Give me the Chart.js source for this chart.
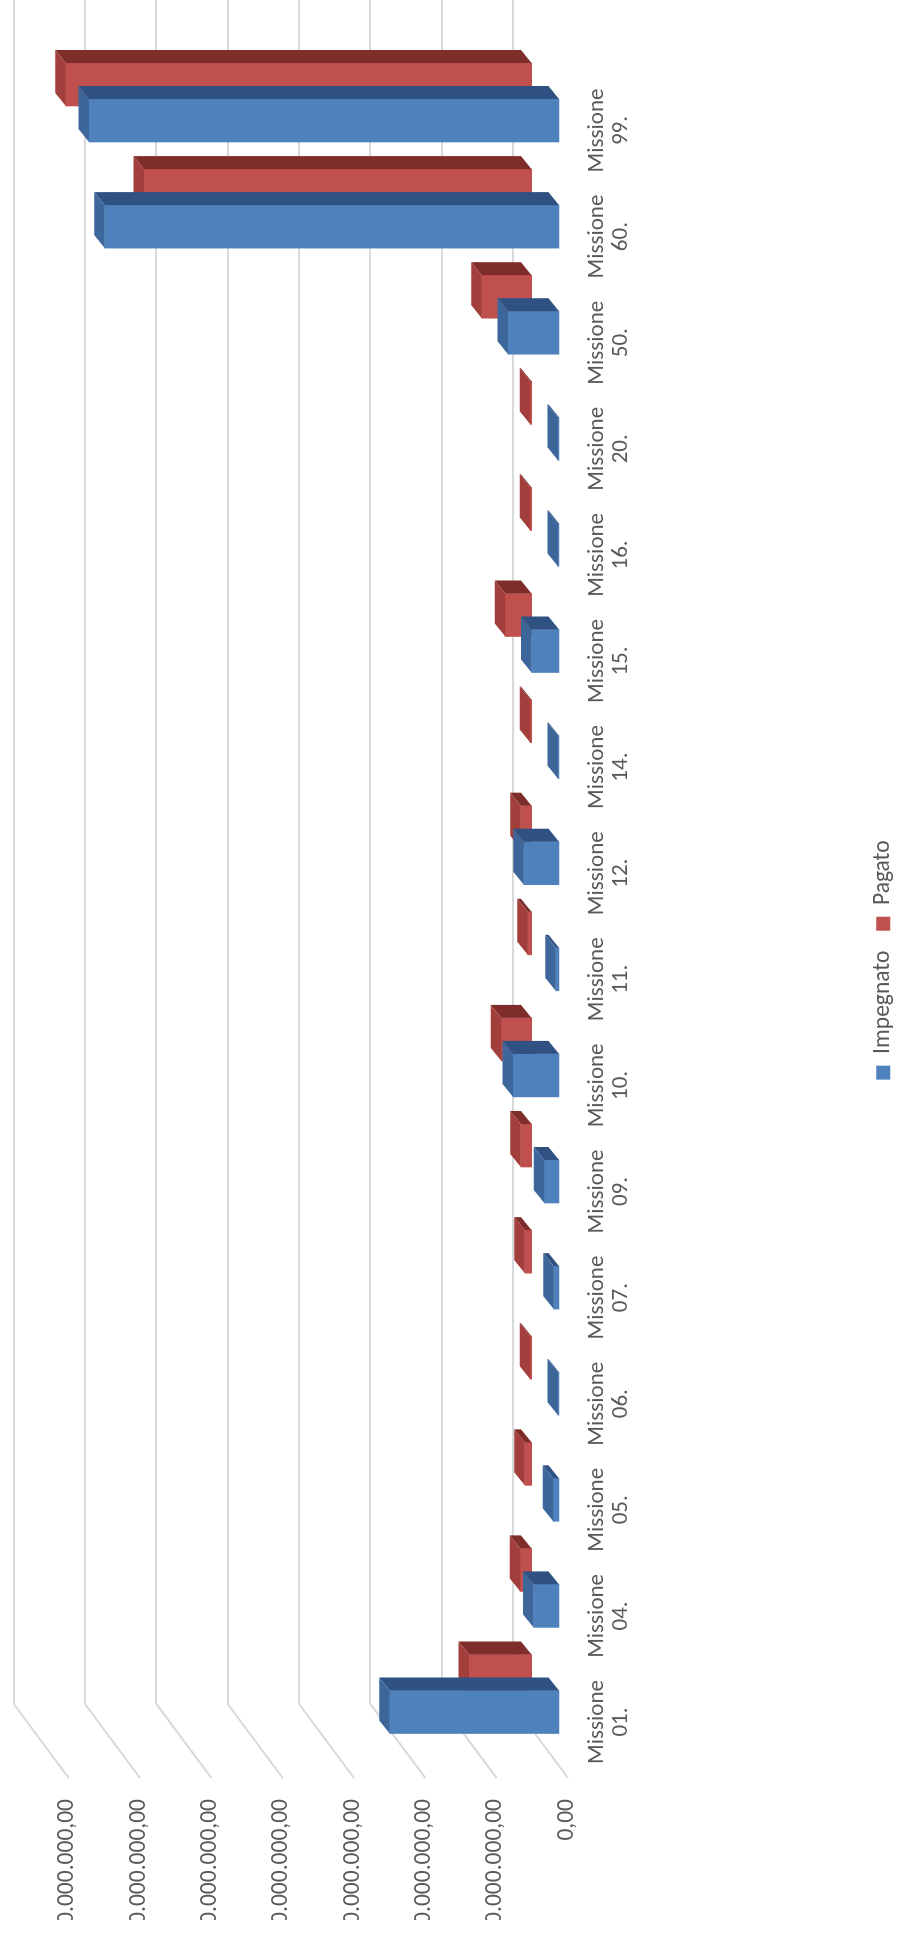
<!DOCTYPE html>
<html>
<head>
<meta charset="utf-8">
<script src="https://cdn.jsdelivr.net/npm/chart.js@4.4.1/dist/chart.umd.min.js"></script>
<style>
html, body { margin:0; padding:0; width:899px; height:1948px; overflow:hidden; background:#ffffff; }
#wrap { position:absolute; left:0; top:0; width:1948px; height:899px; transform-origin:0 0; transform:translate(0px,1948px) rotate(-90deg); }
canvas { display:block; }
</style>
</head>
<body>
<div id="wrap"><canvas id="c" width="1948" height="899"></canvas></div>
<script>
// ---------------- data ----------------
const categories = ["Missione 01.","Missione 04.","Missione 05.","Missione 06.","Missione 07.","Missione 09.","Missione 10.","Missione 11.","Missione 12.","Missione 14.","Missione 15.","Missione 16.","Missione 20.","Missione 50.","Missione 60.","Missione 99."];
const impegnato = [23700000, 3560000, 820000, 150000, 750000, 2050000, 6440000, 450000, 4930000, 150000, 3840000, 150000, 150000, 7120000, 63560000, 65750000];
const pagato    = [8770000, 1600000, 960000, 200000, 950000, 1500000, 4250000, 550000, 1500000, 200000, 3700000, 200000, 200000, 6990000, 54250000, 65200000];
const seriesNames = ["Impegnato", "Pagato"];
const valueTicks = [0, 10000000, 20000000, 30000000, 40000000, 50000000, 60000000, 70000000];
const valueTickLabels = ["0,00", "10.000.000,00", "20.000.000,00", "30.000.000,00", "40.000.000,00", "50.000.000,00", "60.000.000,00", "70.000.000,00"];

// ---------------- layout / style ----------------
const W = 1948;
const PAD_LEFT = 28, PAD_BOTTOM = -6;
const AREA_LEFT = 244, AREA_TOP = 0, AREA_BOTTOM = 595;
const CAT_PX = 106.1, FIRST_CAT_X = 236, RED_SHIFT = 36, LABEL_SHIFT = -10;
const BAR_PPU = 7.3 / 1e6, WALL_PPU = 7.2857 / 1e6;
const BLUE_BASE = 571, RED_BASE = 543, WALL_BASE = 524, LAB_BASE = 579;
const BAR_DEPTH = { dx: 13, dy: -10.5 };
const WALL_DEPTH = { dx: -74, dy: 55 };
const TEXT = '#595959';
const GRID = '#D9D9D9';
const FONT = "Carlito, Calibri, Lato, sans-serif";
const COLORS = {
  blue: { front: '#4F81BD', top: '#3D669B', side: '#2F5283' },
  red:  { front: '#C0504D', top: '#A23E3B', side: '#7E2D2B' }
};

function catRange(c0) {
  const min = (AREA_LEFT - c0) / CAT_PX;
  return { min: min, max: min + (W - AREA_LEFT) / CAT_PX };
}
function valRange(base0, ppu) {
  return { min: -(AREA_BOTTOM - base0) / ppu, max: (base0 - AREA_TOP) / ppu };
}
function noPad(s) { s.paddingTop = 0; s.paddingBottom = 0; s.paddingLeft = 0; s.paddingRight = 0; }
const faceColors = [COLORS.blue, COLORS.red];

const faces3d = {
  id: 'faces3d',
  beforeDatasetsDraw(chart) {
    const ctx = chart.ctx, ys = chart.scales.yW, left = chart.chartArea.left;
    ctx.save();
    ctx.strokeStyle = GRID;
    ctx.lineWidth = 2;
    valueTicks.forEach(v => {
      const g = ys.getPixelForValue(v);
      ctx.beginPath();
      ctx.moveTo(left, g);
      ctx.lineTo(left + WALL_DEPTH.dx, g + WALL_DEPTH.dy);
      ctx.stroke();
    });
    ctx.restore();
  },
  afterDatasetDraw(chart, args) {
    const ctx = chart.ctx, col = faceColors[args.index];
    const dx = BAR_DEPTH.dx, dy = BAR_DEPTH.dy;
    ctx.save();
    args.meta.data.forEach(bar => {
      const p = bar.getProps(['x', 'y', 'base', 'width'], true);
      const l = p.x - p.width / 2, r = p.x + p.width / 2;
      ctx.fillStyle = col.side;
      ctx.beginPath();
      ctx.moveTo(r, p.y); ctx.lineTo(r + dx, p.y + dy); ctx.lineTo(r + dx, p.base + dy); ctx.lineTo(r, p.base);
      ctx.closePath(); ctx.fill();
      ctx.fillStyle = col.top;
      ctx.beginPath();
      ctx.moveTo(l, p.y); ctx.lineTo(l + dx, p.y + dy); ctx.lineTo(r + dx, p.y + dy); ctx.lineTo(r, p.y);
      ctx.closePath(); ctx.fill();
    });
    ctx.restore();
  }
};

const idx = categories.map((c, i) => i);

new Chart(document.getElementById('c'), {
  type: 'bar',
  data: {
    datasets: [
      { label: seriesNames[0], data: idx.map(i => ({ x: i, y: impegnato[i] })), xAxisID: 'xB', yAxisID: 'yB',
        backgroundColor: COLORS.blue.front, borderWidth: 0, barThickness: 43, grouped: false, clip: false },
      { label: seriesNames[1], data: idx.map(i => ({ x: i, y: pagato[i] })), xAxisID: 'xR', yAxisID: 'yR',
        backgroundColor: COLORS.red.front, borderWidth: 0, barThickness: 43, grouped: false, clip: false }
    ]
  },
  options: {
    responsive: false,
    animation: false,
    devicePixelRatio: 1,
    layout: { autoPadding: false, padding: { left: PAD_LEFT, right: 0, top: 0, bottom: PAD_BOTTOM } },
    plugins: {
      tooltip: { enabled: false },
      legend: {
        position: 'bottom',
        labels: { boxWidth: 14, boxHeight: 14, color: TEXT, font: { family: FONT, size: 23.5 }, padding: 20 }
      }
    },
    scales: {
      xB: Object.assign({ type: 'linear', display: false, offset: false, afterFit: noPad }, catRange(FIRST_CAT_X)),
      xR: Object.assign({ type: 'linear', display: false, offset: false, afterFit: noPad }, catRange(FIRST_CAT_X + RED_SHIFT)),
      xL: Object.assign({
        type: 'linear', position: 'bottom', offset: false,
        grid: { display: false, drawTicks: false, offset: false }, border: { display: false },
        ticks: { autoSkip: false, maxRotation: 0, minRotation: 0, padding: 3, color: TEXT,
                 font: { family: FONT, size: 23, lineHeight: 1.04 },
                 callback: (v, i) => categories[i].split(' ') },
        afterBuildTicks: s => { s.ticks = idx.map(i => ({ value: i })); },
        afterFit: s => { s.height = 269; noPad(s); }
      }, catRange(FIRST_CAT_X + LABEL_SHIFT)),
      yB: Object.assign({ type: 'linear', display: false, afterFit: noPad }, valRange(BLUE_BASE, BAR_PPU)),
      yR: Object.assign({ type: 'linear', display: false, afterFit: noPad }, valRange(RED_BASE, BAR_PPU)),
      yW: Object.assign({
        type: 'linear', position: 'right',
        grid: { color: GRID, lineWidth: 2, drawTicks: false }, border: { display: false },
        ticks: { display: false },
        afterBuildTicks: s => { s.ticks = valueTicks.map(v => ({ value: v })); },
        afterFit: s => { s.width = 0; noPad(s); }
      }, valRange(WALL_BASE, WALL_PPU)),
      yL: Object.assign({
        type: 'linear', position: 'left',
        grid: { display: false, drawTicks: false }, border: { display: false },
        ticks: { padding: 95, color: TEXT, font: { family: FONT, size: 23.5 },
                 callback: (v, i) => valueTickLabels[i] },
        afterBuildTicks: s => { s.ticks = valueTicks.map(v => ({ value: v })); },
        afterFit: s => { s.width = AREA_LEFT - PAD_LEFT; noPad(s); }
      }, valRange(LAB_BASE, WALL_PPU))
    }
  },
  plugins: [faces3d]
});
</script>
</body>
</html>
